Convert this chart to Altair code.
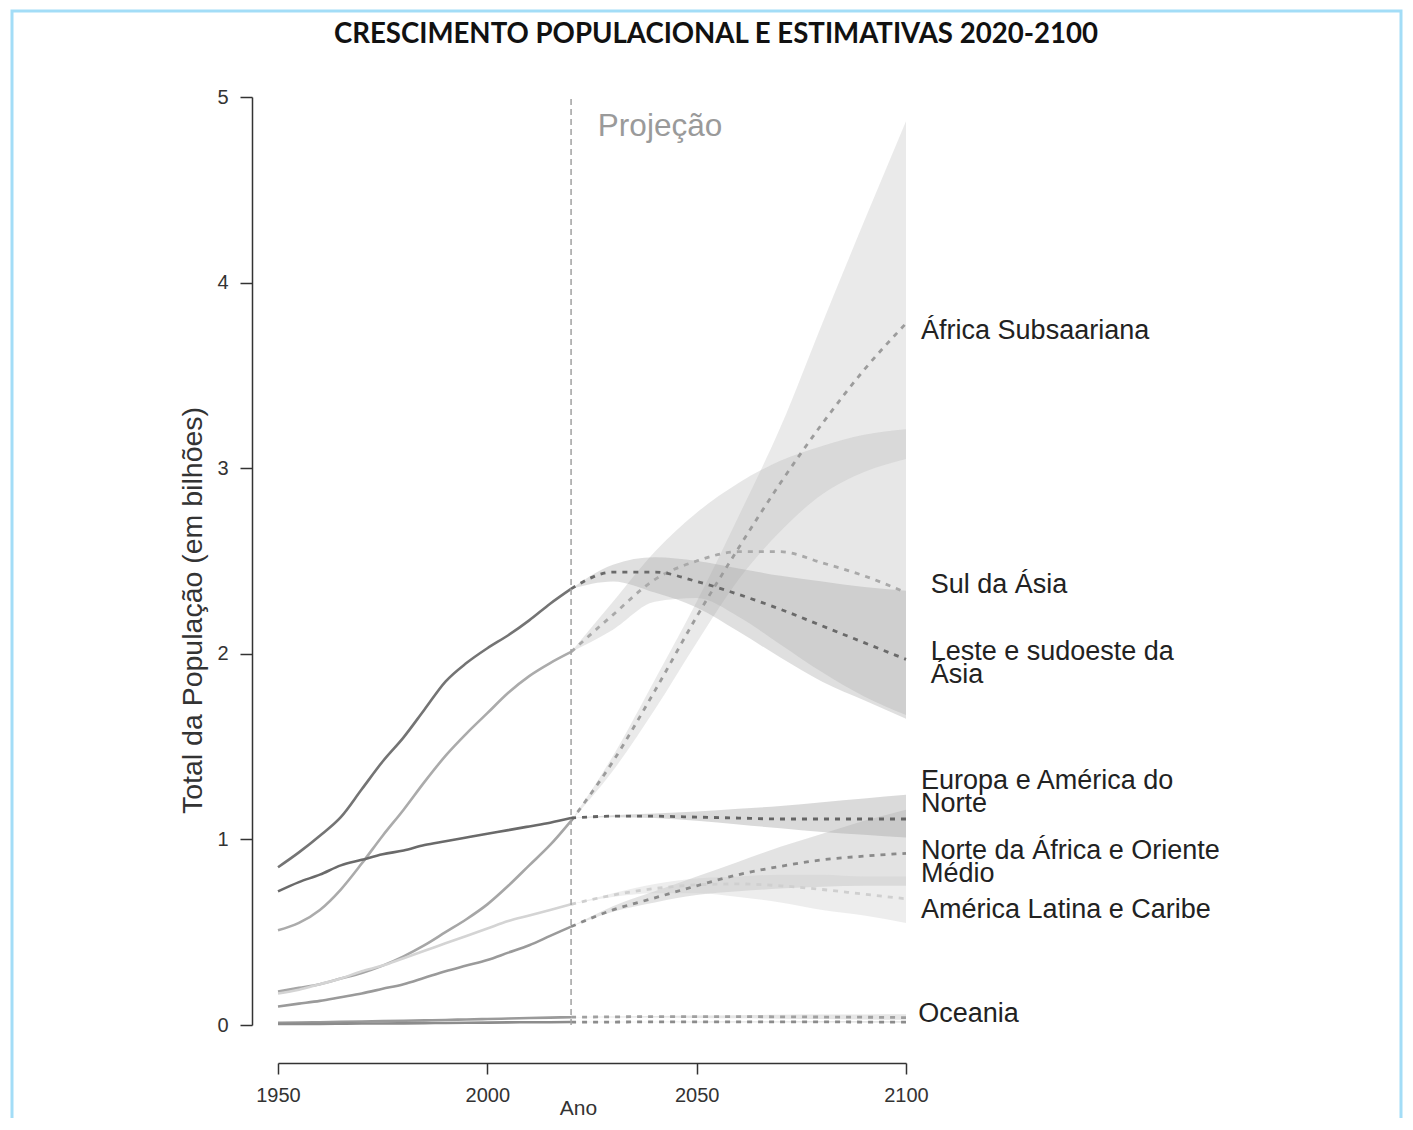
import altair as alt
import pandas as pd

TITLE = "CRESCIMENTO POPULACIONAL E ESTIMATIVAS 2020-2100"

# ---------------- data ----------------
regions = ["África Subsaariana", "Sul da Ásia", "Leste e sudoeste da Ásia",
           "Europa e América do Norte", "Norte da África e Oriente Médio",
           "América Latina e Caribe", "Oceania", "Oceania (2)"]

years_hist = [1950, 1955, 1960, 1965, 1970, 1975, 1980, 1985, 1990, 1995, 2000, 2005, 2010, 2015, 2020]
hist_africa = [0.18, 0.20, 0.22, 0.25, 0.28, 0.32, 0.37, 0.43, 0.50, 0.57, 0.65, 0.75, 0.86, 0.97, 1.10]
hist_sul = [0.51, 0.55, 0.62, 0.73, 0.87, 1.02, 1.16, 1.31, 1.45, 1.57, 1.68, 1.79, 1.88, 1.95, 2.01]
hist_leste = [0.85, 0.93, 1.02, 1.12, 1.27, 1.42, 1.55, 1.70, 1.85, 1.95, 2.03, 2.10, 2.18, 2.27, 2.35]
hist_europa = [0.72, 0.77, 0.81, 0.86, 0.89, 0.92, 0.94, 0.97, 0.99, 1.01, 1.03, 1.05, 1.07, 1.09, 1.115]
hist_norte = [0.10, 0.115, 0.13, 0.15, 0.17, 0.195, 0.22, 0.255, 0.29, 0.32, 0.35, 0.39, 0.43, 0.48, 0.53]
hist_latina = [0.17, 0.19, 0.22, 0.25, 0.29, 0.32, 0.36, 0.40, 0.44, 0.48, 0.52, 0.56, 0.59, 0.62, 0.65]
hist_oceania = [0.012, 0.013, 0.015, 0.017, 0.019, 0.021, 0.023, 0.025, 0.027, 0.030, 0.032, 0.035, 0.038, 0.040, 0.042]
hist_oceania2 = [0.005, 0.006, 0.006, 0.007, 0.008, 0.008, 0.009, 0.010, 0.011, 0.012, 0.013, 0.014, 0.015, 0.015, 0.016]

years_proj = [2020, 2030, 2040, 2050, 2060, 2070, 2080, 2090, 2100]
proj_africa = [1.10, 1.42, 1.80, 2.20, 2.57, 2.92, 3.24, 3.53, 3.78]
lo_africa = [1.10, 1.37, 1.70, 2.06, 2.40, 2.66, 2.86, 2.98, 3.05]
hi_africa = [1.10, 1.45, 1.86, 2.28, 2.74, 3.22, 3.78, 4.33, 4.87]
proj_sul = [2.01, 2.21, 2.40, 2.50, 2.55, 2.55, 2.49, 2.42, 2.33]
lo_sul = [2.01, 2.13, 2.28, 2.30, 2.20, 2.05, 1.90, 1.77, 1.67]
hi_sul = [2.01, 2.28, 2.55, 2.76, 2.92, 3.04, 3.12, 3.18, 3.21]
proj_leste = [2.35, 2.44, 2.44, 2.39, 2.32, 2.24, 2.15, 2.06, 1.97]
lo_leste = [2.35, 2.39, 2.33, 2.25, 2.12, 1.98, 1.85, 1.75, 1.65]
hi_leste = [2.35, 2.48, 2.52, 2.50, 2.46, 2.42, 2.39, 2.36, 2.34]
proj_europa = [1.115, 1.125, 1.125, 1.12, 1.115, 1.11, 1.11, 1.11, 1.11]
lo_europa = [1.115, 1.12, 1.115, 1.10, 1.08, 1.06, 1.04, 1.025, 1.01]
hi_europa = [1.115, 1.13, 1.14, 1.15, 1.165, 1.18, 1.20, 1.22, 1.24]
proj_norte = [0.53, 0.62, 0.685, 0.75, 0.81, 0.855, 0.89, 0.91, 0.925]
lo_norte = [0.53, 0.61, 0.66, 0.70, 0.72, 0.735, 0.745, 0.75, 0.75]
hi_norte = [0.53, 0.64, 0.72, 0.80, 0.88, 0.96, 1.03, 1.10, 1.16]
proj_latina = [0.65, 0.70, 0.735, 0.755, 0.76, 0.75, 0.73, 0.705, 0.68]
lo_latina = [0.65, 0.69, 0.71, 0.71, 0.69, 0.66, 0.62, 0.59, 0.55]
hi_latina = [0.65, 0.71, 0.76, 0.79, 0.80, 0.81, 0.81, 0.80, 0.80]
proj_oceania = [0.042, 0.044, 0.045, 0.045, 0.045, 0.044, 0.043, 0.042, 0.040]
lo_oceania = [0.042, 0.041, 0.040, 0.038, 0.036, 0.034, 0.032, 0.030, 0.028]
hi_oceania = [0.042, 0.046, 0.049, 0.051, 0.053, 0.055, 0.056, 0.057, 0.058]
proj_oceania2 = [0.016, 0.016, 0.017, 0.017, 0.017, 0.017, 0.017, 0.016, 0.016]
lo_oceania2 = [0.016, 0.015, 0.015, 0.014, 0.014, 0.013, 0.013, 0.012, 0.012]
hi_oceania2 = [0.016, 0.017, 0.018, 0.019, 0.020, 0.020, 0.021, 0.021, 0.021]

# labels at the right end (text, year position, value position of first line)
label_text = ["África Subsaariana", "Sul da Ásia", "Leste e sudoeste da\nÁsia",
              "Europa e América do\nNorte", "Norte da África e Oriente\nMédio",
              "América Latina e Caribe", "Oceania"]
label_year = [2103.6, 2105.9, 2105.9, 2103.6, 2103.6, 2103.6, 2102.9]
label_value = [3.74, 2.37, 2.01, 1.315, 0.94, 0.62, 0.059]

# ---------------- styles ----------------
hist_colors = ["#a6a6a6", "#ababab", "#747474", "#6a6a6a", "#9a9a9a", "#d4d4d4", "#9a9a9a", "#8c8c8c"]
proj_colors = ["#9c9c9c", "#a9a9a9", "#6a6a6a", "#646464", "#8a8a8a", "#cfcfcf", "#a0a0a0", "#8c8c8c"]
band_colors = ["#bdbdbd", "#b3b3b3", "#9c9c9c", "#8c8c8c", "#a8a8a8", "#c8c8c8", "#b0b0b0", "#b0b0b0"]

hist_series = [hist_africa, hist_sul, hist_leste, hist_europa, hist_norte, hist_latina, hist_oceania, hist_oceania2]
proj_series = [proj_africa, proj_sul, proj_leste, proj_europa, proj_norte, proj_latina, proj_oceania, proj_oceania2]
lo_series = [lo_africa, lo_sul, lo_leste, lo_europa, lo_norte, lo_latina, lo_oceania, lo_oceania2]
hi_series = [hi_africa, hi_sul, hi_leste, hi_europa, hi_norte, hi_latina, hi_oceania, hi_oceania2]

hist_rows = []
for r, vals in zip(regions, hist_series):
    for y, v in zip(years_hist, vals):
        hist_rows.append({"region": r, "year": y, "value": v})
df_hist = pd.DataFrame(hist_rows)

proj_rows = []
for r, m, lo, hi in zip(regions, proj_series, lo_series, hi_series):
    for y, a, b, c in zip(years_proj, m, lo, hi):
        proj_rows.append({"region": r, "year": y, "value": a, "lo": b, "hi": c})
df_proj = pd.DataFrame(proj_rows)

df_labels = pd.DataFrame({"text": label_text, "year": label_year, "value": label_value})

FONT = "Liberation Sans"
xscale = alt.Scale(domain=[1950, 2100], nice=False, zero=False)
yscale = alt.Scale(domain=[0, 5], nice=False, zero=False)
xaxis = alt.Axis(values=[1950, 2000, 2050, 2100], format="d", offset=38, tickSize=11,
                 tickColor="#333333", tickWidth=1.5, domainColor="#333333", domainWidth=1.5,
                 labelFont=FONT, labelFontSize=20, labelColor="#333333", labelPadding=11,
                 labelFlush=False, labelOverlap=False, grid=False,
                 title="Ano", titleFont=FONT, titleFontSize=21, titleFontWeight="normal",
                 titleColor="#333333", titleX=300, titleY=45, titleBaseline="middle", titleAlign="center")
yaxis = alt.Axis(values=[0, 1, 2, 3, 4, 5], format="d", offset=26, tickSize=12,
                 tickColor="#333333", tickWidth=1.5, domainColor="#333333", domainWidth=1.5,
                 labelFont=FONT, labelFontSize=20, labelColor="#333333", labelPadding=12,
                 labelFlush=False, labelOverlap=False, grid=False,
                 title="Total da População (em bilhões)", titleFont=FONT, titleFontSize=28.5,
                 titleFontWeight="normal", titleColor="#333333", titleAngle=270,
                 titleX=-60, titleY=513, titleBaseline="middle", titleAlign="center")


def X(field):
    return alt.X(field, type="quantitative", scale=xscale, axis=xaxis)


def Y(field):
    return alt.Y(field, type="quantitative", scale=yscale, axis=yaxis)


one = pd.DataFrame({"a": [0]})

border = alt.Chart(one).mark_rect(
    fillOpacity=0, stroke="#a3ddf7", strokeWidth=3
).encode(x=alt.value(-266), x2=alt.value(1123), y=alt.value(-86), y2=alt.value(1060))

title_text = alt.Chart(one).mark_text(
    text=TITLE, font="Lato", fontSize=27.6, fontWeight="bold", color="#111111",
    align="center", baseline="middle"
).encode(x=alt.value(438), y=alt.value(-62))

bands = alt.Chart(df_proj).mark_area(opacity=0.32, interpolate="monotone").encode(
    x=X("year"), y=Y("lo"), y2="hi",
    color=alt.Color("region:N", scale=alt.Scale(domain=regions, range=band_colors), legend=None),
)

hist_lines = alt.Chart(df_hist).mark_line(strokeWidth=2.6, interpolate="monotone").encode(
    x=X("year"), y=Y("value"),
    color=alt.Color("region:N", scale=alt.Scale(domain=regions, range=hist_colors), legend=None),
)

proj_lines = alt.Chart(df_proj).mark_line(strokeWidth=2.8, strokeDash=[5, 6], interpolate="monotone").encode(
    x=X("year"), y=Y("value"),
    color=alt.Color("region:N", scale=alt.Scale(domain=regions, range=proj_colors), legend=None),
)

vrule = alt.Chart(one).mark_rule(
    color="#a0a0a0", strokeWidth=1.5, strokeDash=[6, 4]
).encode(x=alt.datum(2020), y=alt.datum(0), y2=alt.datum(5))

proj_text = alt.Chart(one).mark_text(
    text="Projeção", font=FONT, fontSize=31.5, color="#9a9a9a", align="left", baseline="middle"
).encode(x=alt.datum(2026.4), y=alt.datum(4.84))

labels = alt.Chart(df_labels).mark_text(
    font=FONT, fontSize=27, color="#222222", align="left", baseline="middle", lineBreak="\n", lineHeight=23.5
).encode(x=X("year"), y=Y("value"), text="text:N")

chart = alt.layer(border, title_text, bands, hist_lines, proj_lines, vrule, proj_text, labels).resolve_scale(
    color="independent"
).properties(
    width=628, height=928,
    autosize=alt.AutoSizeParams(type="none"),
    padding={"left": 270, "top": 89, "right": 497, "bottom": 93},
).configure(background="white").configure_view(stroke=None)

chart.save("out.html", embed_options={"renderer": "svg", "actions": False})
